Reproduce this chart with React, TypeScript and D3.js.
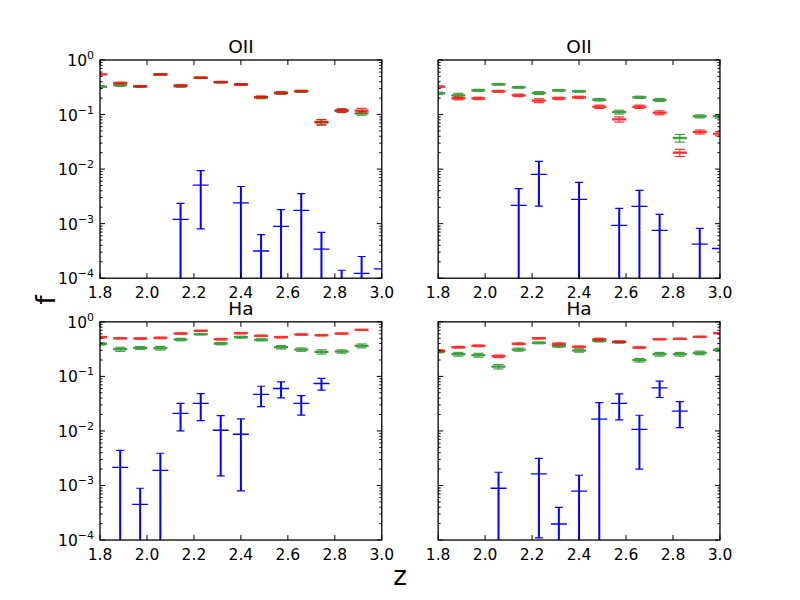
import { useRef, useEffect } from 'react';
import * as d3 from 'd3';

// redshift bin centres
const zBins = [1.8, 1.886, 1.971, 2.057, 2.143, 2.229, 2.314, 2.4, 2.486, 2.571, 2.657, 2.743, 2.829, 2.914, 3.0];
const xTicks = [1.8, 2.0, 2.2, 2.4, 2.6, 2.8, 3.0];
const yDecades = [-4, -3, -2, -1, 0];

type Val = number | null;

// top left: OII
const oiiARed: Val[] = [0.547, 0.379, 0.329, 0.547, 0.343, 0.474, 0.395, 0.358, 0.21, 0.252, 0.27, 0.073, 0.119, 0.118, null];
const oiiARedErr: Val[] = [0.01, 0.012, 0.008, 0.008, 0.012, 0.008, 0.008, 0.01, 0.008, 0.01, 0.008, 0.008, 0.009, 0.012, null];
const oiiAGreen: Val[] = [0.324, 0.348, 0.33, 0.54, 0.33, 0.47, 0.39, 0.355, 0.205, 0.245, 0.265, 0.072, 0.117, 0.105, null];
const oiiAGreenErr: Val[] = [0.012, 0.02, 0.01, 0.01, 0.015, 0.01, 0.01, 0.01, 0.01, 0.012, 0.01, 0.008, 0.008, 0.008, null];
const oiiABlue: Val[] = [null, null, null, null, 1.2e-3, 5.1e-3, null, 2.4e-3, 3.15e-4, 8.9e-4, 1.75e-3, 3.4e-4, 6e-5, 1.23e-4, 1.48e-4];
const oiiABlueErr: Val[] = [null, null, null, null, 1.16e-3, 4.3e-3, null, 2.4e-3, 3.15e-4, 9.1e-4, 1.8e-3, 3.5e-4, 8e-5, 1.27e-4, null];

// top right: OII
const oiiBRed: Val[] = [0.324, 0.198, 0.198, 0.267, 0.225, 0.18, 0.198, 0.207, 0.139, 0.0817, 0.139, 0.108, 0.02, 0.048, 0.0446];
const oiiBRedErr: Val[] = [0.01, 0.012, 0.01, 0.01, 0.012, 0.015, 0.01, 0.01, 0.01, 0.009, 0.01, 0.009, 0.003, 0.004, 0.004];
const oiiBGreen: Val[] = [0.245, 0.225, 0.278, 0.358, 0.316, 0.248, 0.278, 0.267, 0.187, 0.111, 0.207, 0.185, 0.0372, 0.0927, 0.093];
const oiiBGreenErr: Val[] = [0.012, 0.02, 0.012, 0.012, 0.012, 0.015, 0.01, 0.01, 0.01, 0.009, 0.01, 0.012, 0.006, 0.006, 0.007];
const oiiBBlue: Val[] = [null, null, null, null, 2.17e-3, 8.0e-3, null, 2.79e-3, null, 9.3e-4, 2.08e-3, 7.5e-4, null, 4.2e-4, 3.5e-4];
const oiiBBlueErr: Val[] = [null, null, null, null, 2.21e-3, 5.9e-3, null, 2.9e-3, null, 9.8e-4, 2.0e-3, 7.3e-4, null, 4.0e-4, null];

// bottom left: Ha
const haARed: Val[] = [0.524, 0.5, 0.494, 0.508, 0.61, 0.684, 0.481, 0.62, 0.554, 0.524, 0.586, 0.569, 0.61, 0.713, null];
const haARedErr: Val[] = [0.015, 0.015, 0.015, 0.015, 0.015, 0.015, 0.015, 0.015, 0.015, 0.015, 0.015, 0.015, 0.015, 0.01, null];
const haAGreen: Val[] = [0.395, 0.315, 0.333, 0.329, 0.474, 0.594, 0.4, 0.524, 0.468, 0.343, 0.31, 0.282, 0.286, 0.363, null];
const haAGreenErr: Val[] = [0.02, 0.027, 0.02, 0.025, 0.025, 0.015, 0.02, 0.02, 0.02, 0.025, 0.022, 0.025, 0.02, 0.03, null];
const haABlue: Val[] = [null, 2.15e-3, 4.5e-4, 1.9e-3, 0.021, 0.032, 0.0103, 8.7e-3, 0.047, 0.06, 0.032, 0.074, null, null, null];
const haABlueErr: Val[] = [null, 2.25e-3, 4.4e-4, 2.0e-3, 0.011, 0.0165, 0.0088, 7.9e-3, 0.019, 0.0195, 0.0125, 0.018, null, null, null];

// bottom right: Ha
const haBRed: Val[] = [0.294, 0.343, 0.363, 0.234, 0.395, 0.5, 0.395, 0.348, 0.481, 0.43, 0.338, 0.481, 0.488, 0.531, 0.62];
const haBRedErr: Val[] = [0.012, 0.012, 0.012, 0.012, 0.015, 0.015, 0.015, 0.012, 0.02, 0.015, 0.012, 0.012, 0.012, 0.012, 0.012];
const haBGreen: Val[] = [0.285, 0.255, 0.245, 0.151, 0.31, 0.412, 0.358, 0.298, 0.448, 0.425, 0.198, 0.255, 0.255, 0.27, 0.306];
const haBGreenErr: Val[] = [0.015, 0.02, 0.02, 0.014, 0.02, 0.015, 0.015, 0.02, 0.02, 0.015, 0.015, 0.02, 0.02, 0.02, 0.02];
const haBBlue: Val[] = [null, null, null, 8.9e-4, null, 1.63e-3, 1.97e-4, 7.9e-4, 0.0164, 0.032, 0.0107, 0.0615, 0.023, null, null];
const haBBlueErr: Val[] = [null, null, null, 8.6e-4, null, 1.52e-3, 2.0e-4, 7.5e-4, 0.0166, 0.016, 0.0087, 0.0205, 0.0115, null, null];

const panels = [
  { title: 'OII', red: oiiARed, redErr: oiiARedErr, green: oiiAGreen, greenErr: oiiAGreenErr, blue: oiiABlue, blueErr: oiiABlueErr },
  { title: 'OII', red: oiiBRed, redErr: oiiBRedErr, green: oiiBGreen, greenErr: oiiBGreenErr, blue: oiiBBlue, blueErr: oiiBBlueErr },
  { title: 'Ha', red: haARed, redErr: haARedErr, green: haAGreen, greenErr: haAGreenErr, blue: haABlue, blueErr: haABlueErr },
  { title: 'Ha', red: haBRed, redErr: haBRedErr, green: haBGreen, greenErr: haBGreenErr, blue: haBBlue, blueErr: haBBlueErr },
];

const FONT = 'DejaVu Sans, sans-serif';

export default function App() {
  const svgRef = useRef<SVGSVGElement>(null);

  useEffect(() => {
    if (!svgRef.current) return;
    const svg = d3.select(svgRef.current);
    svg.selectAll('*').remove();

    const panelW = 281.8;
    const panelH = 218.2;

    panels.forEach((p, i) => {
      const col = i % 2;
      const row = Math.floor(i / 2);
      const x0 = 100 + col * panelW * 1.2;
      const y0 = 60 + row * panelH * 1.2;

      const g = svg.append('g').attr('transform', `translate(${x0},${y0})`);

      const x = d3.scaleLinear().domain([1.8, 3.0]).range([0, panelW]);
      const y = d3.scaleLog().domain([1e-4, 1]).range([panelH, 0]);

      const clipId = `clip-${i}`;
      g.append('clipPath').attr('id', clipId)
        .append('rect').attr('width', panelW).attr('height', panelH);

      const plot = g.append('g').attr('clip-path', `url(#${clipId})`);

      // error bars: vertical line, caps, centre marker
      const drawSeries = (vals: Val[], errs: Val[], color: string, opts: { lw: number; cap: number; mark: number; markW: number; opacity: number }) => {
        const s = plot.append('g').attr('stroke', color).attr('opacity', opts.opacity).attr('fill', 'none');
        vals.forEach((v, k) => {
          if (v === null) return;
          const cx = x(zBins[k]);
          const e = errs[k];
          if (e !== null) {
            const hi = y(v + e);
            const lo = y(Math.max(v - e, 1e-9));
            s.append('line').attr('x1', cx).attr('x2', cx).attr('y1', lo).attr('y2', hi).attr('stroke-width', opts.lw);
            [lo, hi].forEach(cy => {
              s.append('line').attr('x1', cx - opts.cap).attr('x2', cx + opts.cap)
                .attr('y1', cy).attr('y2', cy).attr('stroke-width', 1.2);
            });
          }
          s.append('line').attr('x1', cx - opts.mark).attr('x2', cx + opts.mark)
            .attr('y1', y(v)).attr('y2', y(v)).attr('stroke-width', opts.markW);
        });
      };

      drawSeries(p.green, p.greenErr, '#008000', { lw: 1.2, cap: 5, mark: 7, markW: 2.4, opacity: 0.75 });
      drawSeries(p.red, p.redErr, '#ff0000', { lw: 1.2, cap: 5, mark: 7, markW: 2.4, opacity: 0.8 });
      drawSeries(p.blue, p.blueErr, '#0000ff', { lw: 2, cap: 4, mark: 8, markW: 1.3, opacity: 1 });

      // ticks
      const ticks = g.append('g').attr('stroke', '#000').attr('stroke-width', 1);
      xTicks.forEach(t => {
        const tx = x(t);
        ticks.append('line').attr('x1', tx).attr('x2', tx).attr('y1', panelH).attr('y2', panelH - 5);
        ticks.append('line').attr('x1', tx).attr('x2', tx).attr('y1', 0).attr('y2', 5);
      });
      y.ticks().forEach(t => {
        const ty = y(t);
        const major = Math.abs(Math.log10(t) - Math.round(Math.log10(t))) < 1e-6;
        const len = major ? 5 : 2.5;
        ticks.append('line').attr('x1', 0).attr('x2', len).attr('y1', ty).attr('y2', ty);
        ticks.append('line').attr('x1', panelW).attr('x2', panelW - len).attr('y1', ty).attr('y2', ty);
      });

      // frame
      g.append('rect').attr('width', panelW).attr('height', panelH)
        .attr('fill', 'none').attr('stroke', '#000').attr('stroke-width', 1.3);

      // x tick labels
      g.append('g').selectAll('text').data(xTicks).enter().append('text')
        .attr('x', d => x(d)).attr('y', panelH + 20)
        .attr('text-anchor', 'middle')
        .attr('font-family', FONT).attr('font-size', 15.5)
        .text(d => d.toFixed(1));

      // y tick labels, left column only
      if (col === 0) {
        yDecades.forEach(d => {
          const t = g.append('text')
            .attr('x', -6).attr('y', y(Math.pow(10, d)) + 6)
            .attr('text-anchor', 'end')
            .attr('font-family', FONT).attr('font-size', 15.5);
          t.append('tspan').text('10');
          t.append('tspan').attr('font-size', 11).attr('dy', -7).text(d < 0 ? `\u2212${-d}` : `${d}`);
        });
      }

      // title
      g.append('text')
        .attr('x', panelW / 2).attr('y', -7)
        .attr('text-anchor', 'middle')
        .attr('font-family', FONT).attr('font-size', 18.5)
        .text(p.title);
    });

    // axis labels
    svg.append('text')
      .attr('transform', 'translate(55,300) rotate(-90)')
      .attr('text-anchor', 'middle')
      .attr('font-family', FONT).attr('font-size', 26)
      .text('f');

    svg.append('text')
      .attr('x', 400).attr('y', 585)
      .attr('text-anchor', 'middle')
      .attr('font-family', FONT).attr('font-size', 26)
      .text('z');
  }, []);

  return (
    <div style={{ position: 'absolute', left: 0, top: 0, background: '#fff' }}>
      <svg ref={svgRef} width={800} height={600} style={{ display: 'block', background: '#fff' }} />
    </div>
  );
}
